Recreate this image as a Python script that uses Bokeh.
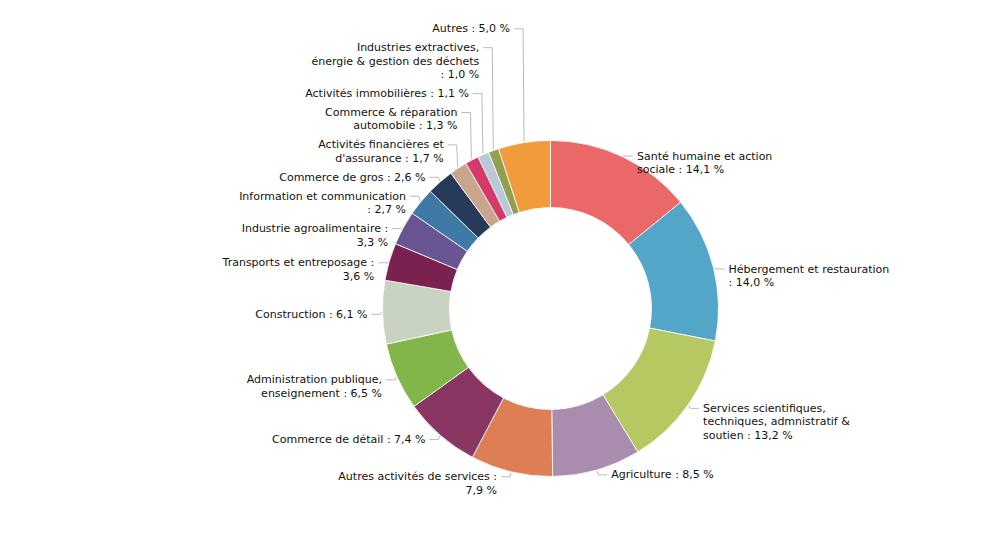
import math
from bokeh.plotting import figure
from bokeh.models import Range1d, ColumnDataSource
from bokeh.core.properties import value
from bokeh.embed import file_html
from bokeh.resources import INLINE

# ---------------- data ----------------
categories = [
    "Santé humaine et action sociale",
    "Hébergement et restauration",
    "Services scientifiques, techniques, admnistratif & soutien",
    "Agriculture",
    "Autres activités de services",
    "Commerce de détail",
    "Administration publique, enseignement",
    "Construction",
    "Transports et entreposage",
    "Industrie agroalimentaire",
    "Information et communication",
    "Commerce de gros",
    "Activités financières et d'assurance",
    "Commerce & réparation automobile",
    "Activités immobilières",
    "Industries extractives, énergie & gestion des déchets",
    "Autres",
]
values = [14.1, 14.0, 13.2, 8.5, 7.9, 7.4, 6.5, 6.1, 3.6, 3.3, 2.7, 2.6, 1.7, 1.3, 1.1, 1.0, 5.0]
label_templates = [
    "Santé humaine et action\nsociale : {} %",
    "Hébergement et restauration\n: {} %",
    "Services scientifiques,\ntechniques, admnistratif &\nsoutien : {} %",
    "Agriculture : {} %",
    "Autres activités de services :\n{} %",
    "Commerce de détail : {} %",
    "Administration publique,\nenseignement : {} %",
    "Construction : {} %",
    "Transports et entreposage :\n{} %",
    "Industrie agroalimentaire :\n{} %",
    "Information et communication\n: {} %",
    "Commerce de gros : {} %",
    "Activités financières et\nd'assurance : {} %",
    "Commerce & réparation\nautomobile : {} %",
    "Activités immobilières : {} %",
    "Industries extractives,\nénergie & gestion des déchets\n: {} %",
    "Autres : {} %",
]
colors = [
    "#EB6868", "#54A6C9", "#B6C862", "#AA8DAE", "#DD7E54", "#8A3663",
    "#82B54A", "#C9D3C1", "#7A2150", "#6A5594", "#3E7AA5", "#283A5A",
    "#C8A58C", "#D63A6B", "#B9C9DA", "#92A050", "#F09B3C",
]

# ---------------- layout ----------------
W, H = 985, 558
CX, CY = 550, 308          # centre in page pixels (from top)
R_OUT, R_IN = 168, 101
LINE_H = 13.5
GAP = 5.4
FONT = "DejaVu Sans"
FONT_SIZE = "11px"

p = figure(width=W, height=H, x_range=Range1d(0, W), y_range=Range1d(0, H),
           output_backend="svg", toolbar_location=None, min_border=0)
p.axis.visible = False
p.grid.visible = False
p.outline_line_color = None
p.background_fill_color = "white"
p.border_fill_color = "white"

total = sum(values)
starts, ends, mids = [], [], []
cum = 0.0
for v in values:
    f0 = cum / total
    cum += v
    f1 = cum / total
    starts.append(math.pi / 2 - 2 * math.pi * f1)
    ends.append(math.pi / 2 - 2 * math.pi * f0)
    mids.append((f0 + f1) / 2)

wsrc = ColumnDataSource(dict(start=starts, end=ends, color=colors, cat=categories))
p.annular_wedge(x=CX, y=H - CY, inner_radius=R_IN, outer_radius=R_OUT,
                start_angle="start", end_angle="end", direction="anticlock",
                fill_color="color", line_color="white", line_width=0.8, source=wsrc)

# labels
fmt = lambda v: f"{v:.1f}".replace(".", ",")
labels = []
for i, (t, v, m) in enumerate(zip(label_templates, values, mids)):
    th = 2 * math.pi * m
    ax = CX + (R_OUT + 1) * math.sin(th)
    ay = CY - (R_OUT + 1) * math.cos(th)
    lines = t.format(fmt(v)).split("\n")
    side = "right" if math.sin(th) >= 0 else "left"
    labels.append(dict(ax=ax, ay=ay, lines=lines, side=side,
                       first=ay + 2 - 2 * math.cos(th)))

# collision avoidance: left side pushes upward from the bottom
left = sorted([l for l in labels if l["side"] == "left"], key=lambda l: -l["ay"])
limit = None
for l in left:
    n = len(l["lines"])
    bottom = l["first"] + (n - 1) * LINE_H + LINE_H / 2
    if limit is not None and bottom > limit:
        l["first"] = limit - (n - 1) * LINE_H - LINE_H / 2
    limit = l["first"] - LINE_H / 2 - GAP

right = sorted([l for l in labels if l["side"] == "right"], key=lambda l: l["ay"])
limit = None
for l in right:
    n = len(l["lines"])
    top = l["first"] - LINE_H / 2
    if limit is not None and top < limit:
        l["first"] = limit + LINE_H / 2
    limit = l["first"] + (n - 1) * LINE_H + LINE_H / 2 + GAP

tl = dict(x=[], y=[], text=[])
tr = dict(x=[], y=[], text=[])
cx_, cy_ = [], []
for l in labels:
    ax, ay, fy = l["ax"], l["ay"], l["first"]
    if l["side"] == "left":
        tx = ax - 14
        target = tl
        cx_.append([ax, ax - 1, tx + 4])
    else:
        tx = ax + 14
        target = tr
        cx_.append([ax, ax + 1, tx - 4])
    cy_.append([H - ay, H - fy, H - fy])
    for k, line in enumerate(l["lines"]):
        target["x"].append(tx)
        target["y"].append(H - (fy + k * LINE_H))
        target["text"].append(line)

p.multi_line(xs=cx_, ys=cy_, line_color="#BBBBBB", line_width=1)
p.text(x="x", y="y", text="text", source=ColumnDataSource(tl), text_align="right",
       text_baseline="middle", text_font=value(FONT), text_font_size=FONT_SIZE,
       text_color="#111111")
p.text(x="x", y="y", text="text", source=ColumnDataSource(tr), text_align="left",
       text_baseline="middle", text_font=value(FONT), text_font_size=FONT_SIZE,
       text_color="#111111")

open("out.html", "w").write(file_html(p, INLINE))
